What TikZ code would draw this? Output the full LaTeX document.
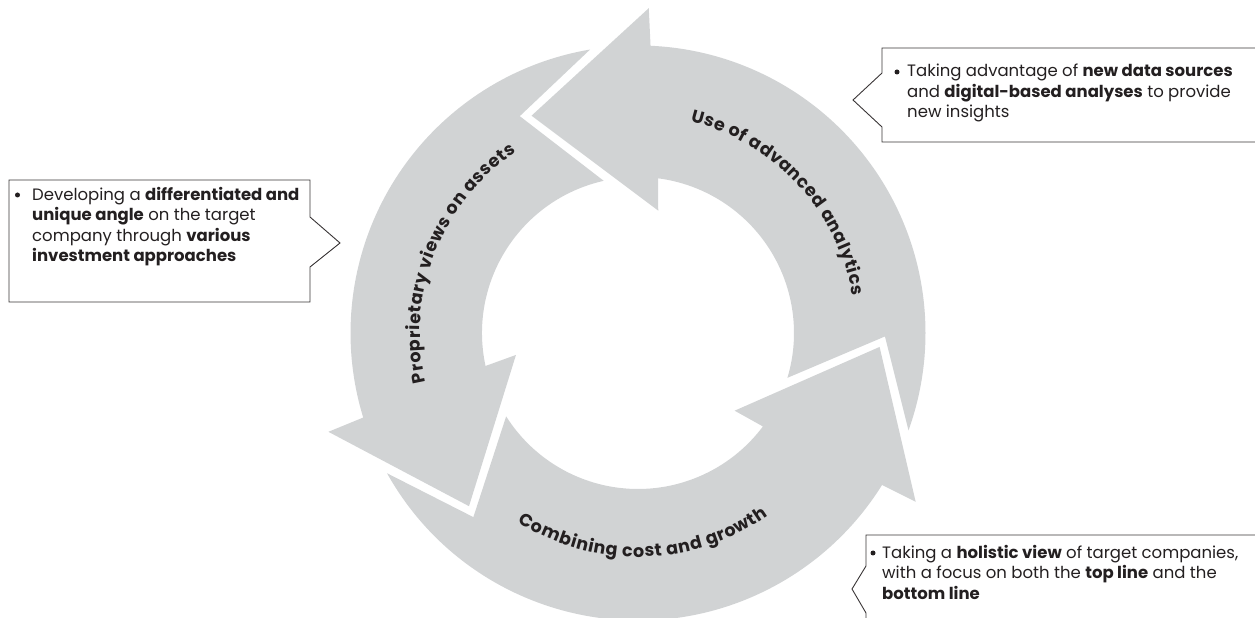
\documentclass[tikz,border=0pt]{standalone}
\usepackage{fontspec}
\setmainfont{Poppins}
\usetikzlibrary{decorations.text}
\definecolor{cyclegray}{HTML}{D1D3D4}
\definecolor{inkgray}{HTML}{231F20}
\newcommand{\labelfont}{\bfseries\fontsize{17.5}{20}\selectfont}
\tikzset{
  cyclearrow/.style={fill=cyclegray,draw=none},
  cyclelabel/.style={decorate,decoration={text effects along path,
      text={#1},text align=center,
      text effects/.cd,text along path,
      characters={font=\labelfont,text=inkgray,inner xsep=0.3pt,inner ysep=0pt},
      character widths={font=\labelfont,inner xsep=0.3pt,inner ysep=0pt}}},
  calloutline/.style={draw=inkgray!90,line width=0.9pt,line join=miter},
  callouttext/.style={anchor=north west,align=left,inner sep=0pt,text=inkgray,
      font=\fontsize{16.5}{20.5}\selectfont},
  calloutdot/.style={circle,fill=inkgray,inner sep=0pt,minimum size=5pt},
}
% #1 = tip angle of the arrow before, #2 = tip angle of this arrow
\newcommand{\cyclepiece}[2]{%
  \fill[cyclearrow] ({#1-16.5}:287.5)
    arc[start angle={#1-16.5},end angle={#2-28.6},radius=287.5]
    -- ({#2-28}:325) -- ({#2}:242) -- ({#2-35.5}:124) -- ({#2-33.5}:156)
    arc[start angle={#2-33.5},end angle={#1-13.4},radius=156]
    -- ({#1+2.5}:247) -- cycle;}
\begin{document}
\begin{tikzpicture}[x=1pt,y=1pt]
\useasboundingbox (0,0) rectangle (1255,618);
\clip (0,0) rectangle (1255,618);
%%
\begin{scope}[shift={(638,285)}]
  \cyclepiece{-3.3}{116.1}
  \cyclepiece{116.1}{225.7}
  \cyclepiece{225.7}{356.7}
  \path[cyclelabel={Use of advanced analytics}]
    (85:218) arc[start angle=85,end angle=1,radius=218];
  \path[cyclelabel={Proprietary views on assets}]
    (200:218) arc[start angle=200,end angle=117,radius=218];
  \path[cyclelabel={Combining cost and growth}]
    (228:224) arc[start angle=228,end angle=315,radius=224];
\end{scope}
%%
\draw[calloutline] (9,438) -- (310,438) -- (310,401) -- (340,375) -- (310,351)
  -- (310,316) -- (9,316) -- cycle;
\node (dev_bullet) at (17.5,423) [calloutdot] {};
\node (dev_text) at (32,431) [callouttext]
  {Developing a \textbf{differentiated and}\\
   \textbf{unique angle} on the target\\
   company through \textbf{various}\\
   \textbf{investment approaches}};
%
\draw[calloutline] (1270,570) -- (882,570) -- (882,545) -- (853,518) -- (882,491)
  -- (882,476) -- (1270,476);
\node (adv_bullet) at (897,546) [calloutdot] {};
\node (adv_text) at (907,554) [callouttext]
  {Taking advantage of \textbf{new data sources}\\
   and \textbf{digital-based analyses} to provide\\
   new insights};
%
\draw[calloutline] (1270,83) -- (866,83) -- (866,52) -- (852,29) -- (866,5)
  -- (866,-20);
\node (hol_bullet) at (873,65) [calloutdot] {};
\node (hol_text) at (882,73) [callouttext]
  {Taking a \textbf{holistic view} of target companies,\\
   with a focus on both the \textbf{top line} and the\\
   \textbf{bottom line}};
%
\end{tikzpicture}
\end{document}
